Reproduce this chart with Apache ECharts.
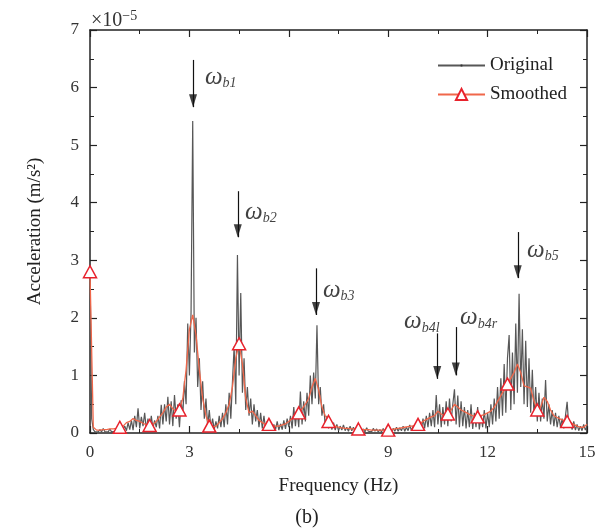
<!DOCTYPE html>
<html>
<head>
<meta charset="utf-8">
<script src="https://cdn.jsdelivr.net/npm/echarts@6/dist/echarts.min.js"></script>
<style>
html,body{margin:0;padding:0;background:#fff;}
#chart{width:614px;height:532px;}
</style>
</head>
<body>
<div id="chart"></div>
<script>
// Original spectrum, 0 to 15 Hz, step 0.05 Hz (units of 1e-5 m/s^2)
const origStep = 0.05;
const originalValues = [
  // 0.00-0.95
  2.9, 0.25, 0.06, 0.02, 0.05, 0.02, 0.06, 0.02, 0.08, 0.02, 0.05, 0.02, 0.07, 0.02, 0.05, 0.03, 0.06, 0.02, 0.09, 0.03,
  // 1.00-1.95
  0.06, 0.12, 0.04, 0.18, 0.06, 0.22, 0.05, 0.3, 0.1, 0.43, 0.08, 0.28, 0.12, 0.35, 0.06, 0.25, 0.05, 0.3, 0.08, 0.22,
  // 2.00-2.95
  0.1, 0.3, 0.08, 0.49, 0.15, 0.5, 0.2, 0.63, 0.15, 0.55, 0.12, 0.66, 0.25, 0.5, 0.1, 0.57, 0.3, 0.9, 0.5, 1.9,
  // 3.00-3.95
  1.0, 2.1, 5.42, 1.4, 2.0, 0.8, 1.3, 0.4, 0.9, 0.25, 0.6, 0.12, 0.4, 0.08, 0.25, 0.06, 0.2, 0.08, 0.3, 0.1,
  // 4.00-4.95
  0.35, 0.1, 0.5, 0.15, 0.7, 0.25, 0.9, 1.5, 0.5, 3.09, 1.0, 2.43, 0.7, 1.3, 0.4, 0.8, 0.3, 0.6, 0.15, 0.5,
  // 5.00-5.95
  0.2, 0.4, 0.1, 0.35, 0.08, 0.3, 0.06, 0.2, 0.05, 0.18, 0.05, 0.15, 0.06, 0.2, 0.05, 0.16, 0.06, 0.22, 0.07, 0.25,
  // 6.00-6.95
  0.1, 0.3, 0.08, 0.45, 0.12, 0.4, 0.1, 0.72, 0.15, 0.55, 0.2, 0.7, 0.3, 1.0, 0.5, 1.05, 0.6, 1.87, 0.5, 0.8,
  // 7.00-7.95
  0.3, 0.5, 0.12, 0.3, 0.08, 0.25, 0.06, 0.18, 0.05, 0.15, 0.04, 0.12, 0.05, 0.14, 0.04, 0.1, 0.03, 0.12, 0.04, 0.1,
  // 8.00-8.95
  0.03, 0.08, 0.02, 0.1, 0.03, 0.07, 0.02, 0.09, 0.03, 0.06, 0.02, 0.08, 0.03, 0.07, 0.02, 0.06, 0.02, 0.08, 0.02, 0.05,
  // 9.00-9.95
  0.02, 0.06, 0.02, 0.08, 0.03, 0.1, 0.03, 0.09, 0.04, 0.12, 0.03, 0.1, 0.04, 0.14, 0.04, 0.12, 0.05, 0.16, 0.06, 0.2,
  // 10.00-10.95
  0.06, 0.25, 0.08, 0.3, 0.1, 0.35, 0.12, 0.4, 0.1, 0.66, 0.15, 0.5, 0.1, 0.45, 0.15, 0.55, 0.12, 0.6, 0.2, 0.5,
  // 11.00-11.95
  0.76, 0.15, 0.65, 0.1, 0.55, 0.12, 0.45, 0.08, 0.4, 0.1, 0.5, 0.07, 0.35, 0.1, 0.45, 0.06, 0.3, 0.1, 0.4, 0.08,
  // 12.00-12.95
  0.35, 0.1, 0.5, 0.15, 0.6, 0.2, 0.8, 0.25, 0.95, 0.3, 1.2, 0.35, 1.3, 1.7, 0.4, 1.4, 0.5, 1.9, 0.7, 2.42,
  // 13.00-13.95
  0.8, 1.8, 0.5, 1.6, 0.45, 1.3, 0.35, 1.1, 0.3, 0.8, 0.2, 0.7, 0.2, 0.6, 0.25, 0.92, 0.2, 0.5, 0.15, 0.4,
  // 14.00-14.95
  0.12, 0.35, 0.1, 0.3, 0.1, 0.25, 0.08, 0.3, 0.54, 0.12, 0.2, 0.06, 0.2, 0.05, 0.15, 0.04, 0.12, 0.04, 0.15, 0.05,
  // 15.00
  0.12
];

// Smoothed spectrum, step 0.1 Hz
const smoothStep = 0.1;
const smoothedValues = [
  2.8, 0.1, 0.05, 0.05, 0.06, 0.06, 0.07, 0.07, 0.08, 0.1,
  0.12, 0.18, 0.2, 0.25, 0.22, 0.2, 0.17, 0.14, 0.13, 0.15,
  0.2, 0.28, 0.35, 0.45, 0.5, 0.42, 0.38, 0.4, 0.6, 1.1,
  1.8, 2.05, 1.7, 1.1, 0.6, 0.3, 0.12, 0.1, 0.12, 0.18,
  0.25, 0.35, 0.5, 0.8, 1.3, 1.55, 1.2, 0.6, 0.35, 0.38,
  0.3, 0.22, 0.18, 0.15, 0.15, 0.13, 0.12, 0.12, 0.14, 0.16,
  0.2, 0.25, 0.3, 0.35, 0.42, 0.5, 0.6, 0.8, 0.95, 0.75,
  0.45, 0.3, 0.2, 0.15, 0.12, 0.1, 0.09, 0.08, 0.08, 0.07,
  0.07, 0.07, 0.06, 0.06, 0.06, 0.05, 0.05, 0.05, 0.05, 0.05,
  0.05, 0.06, 0.07, 0.08, 0.09, 0.1, 0.11, 0.12, 0.13, 0.15,
  0.18, 0.22, 0.25, 0.28, 0.3, 0.38, 0.33, 0.3, 0.33, 0.4,
  0.5, 0.45, 0.4, 0.37, 0.34, 0.31, 0.29, 0.28, 0.3, 0.32,
  0.35, 0.38, 0.45, 0.55, 0.65, 0.75, 0.85, 0.95, 1.05, 1.2,
  1.05, 0.82, 0.8, 0.78, 0.55, 0.4, 0.45, 0.62, 0.55, 0.4,
  0.3, 0.27, 0.24, 0.22, 0.2, 0.18, 0.15, 0.12, 0.1, 0.1,
  0.15
];
const markerEvery = 9;

// Axis ticks
const xMin = 0, xMax = 15, xInterval = 3;
const yMin = 0, yMax = 7, yInterval = 1;

// Annotation arrows: x, top of shaft, arrow tip
const arrowX     = [3.11, 4.46, 6.82, 10.48, 11.04, 12.91];
const arrowTop   = [6.48, 4.2, 2.86, 1.73, 1.84, 3.49];
const arrowTip   = [5.66, 3.4, 2.05, 0.94, 1.0, 2.69];
// Annotation labels
const labelSubs  = ['b1', 'b2', 'b3', 'b4l', 'b4r', 'b5'];
const labelX     = [3.47, 4.68, 7.03, 9.48, 11.17, 13.19];
const labelY     = [6.18, 3.84, 2.48, 1.93, 2.0, 3.18];

const serif = '"Liberation Serif", "Times New Roman", serif';

const originalData = originalValues.map((v, i) => [+(i * origStep).toFixed(2), v]);
const smoothedData = smoothedValues.map((v, i) => [+(i * smoothStep).toFixed(2), v]);
const arrowLines = arrowX.map((x, i) => [{coord: [x, arrowTop[i]]}, {coord: [x, arrowTip[i]]}]);
const arrowHeads = arrowX.map((x, i) => [x, arrowTip[i]]);
const labelData = labelX.map((x, i) => ({value: [x, labelY[i]], sub: labelSubs[i]}));

const chart = echarts.init(document.getElementById('chart'), null, {renderer: 'canvas'});

const tickCommon = {
  axisLine: {show: true, onZero: false, lineStyle: {color: '#222', width: 1.5}},
  axisTick: {show: true, inside: true, length: 7, lineStyle: {color: '#222', width: 1.2}},
  minorTick: {show: true, splitNumber: 2, length: 4, lineStyle: {color: '#222', width: 1}},
  splitLine: {show: false}
};

const option = {
  animation: false,
  backgroundColor: '#fff',
  title: [
    {
      text: '{a|×10}{b|−5}',
      left: 86, top: 4,
      textStyle: {
        fontWeight: 'normal',
        rich: {
          a: {fontFamily: serif, fontSize: 20, fontWeight: 'normal', color: '#333'},
          b: {fontFamily: serif, fontSize: 14, fontWeight: 'normal', color: '#333', padding: [0, 0, 10, 0]}
        }
      }
    },
    {
      text: '(b)',
      left: 'center', top: 503,
      textStyle: {fontFamily: serif, fontSize: 20, fontWeight: 'normal', color: '#222'}
    }
  ],
  grid: {left: 90, right: 27, top: 30, bottom: 99, containLabel: false},
  legend: {
    orient: 'vertical',
    left: 432, top: 51,
    itemWidth: 47, itemHeight: 14, itemGap: 10,
    textStyle: {fontFamily: serif, fontSize: 19, color: '#222'},
    data: ['Original', 'Smoothed']
  },
  xAxis: [
    Object.assign({
      type: 'value', min: xMin, max: xMax, interval: xInterval, position: 'bottom',
      name: 'Frequency (Hz)', nameLocation: 'middle', nameGap: 44,
      nameTextStyle: {fontFamily: serif, fontSize: 19, color: '#222'},
      axisLabel: {fontFamily: serif, fontSize: 17, color: '#333', margin: 11}
    }, tickCommon),
    Object.assign({
      type: 'value', min: xMin, max: xMax, interval: xInterval, position: 'top',
      axisLabel: {show: false}
    }, tickCommon)
  ],
  yAxis: [
    Object.assign({
      type: 'value', min: yMin, max: yMax, interval: yInterval, position: 'left',
      name: 'Acceleration (m/s²)', nameLocation: 'middle', nameGap: 45,
      nameTextStyle: {fontFamily: serif, fontSize: 19, color: '#222'},
      axisLabel: {fontFamily: serif, fontSize: 17, color: '#333', margin: 11}
    }, tickCommon),
    Object.assign({
      type: 'value', min: yMin, max: yMax, interval: yInterval, position: 'right',
      axisLabel: {show: false}
    }, tickCommon)
  ],
  series: [
    {
      name: 'Original',
      type: 'line',
      data: originalData,
      // tiny centre dot only used by the legend icon
      symbol: 'path://M0,0L0.01,0M42,42L58,42L58,58L42,58ZM100,100L100.01,100',
      showSymbol: false,
      lineStyle: {color: '#575757', width: 1.2},
      itemStyle: {color: '#333', borderWidth: 0},
      z: 2,
      markLine: {
        silent: true,
        symbol: ['none', 'none'],
        label: {show: false},
        lineStyle: {color: '#111', width: 1.2, type: 'solid'},
        data: arrowLines
      }
    },
    {
      name: 'Smoothed',
      type: 'line',
      data: smoothedData,
      showAllSymbol: true,
      symbol: 'triangle',
      symbolSize: function (val, params) { return params.dataIndex % markerEvery === 0 ? [13, 12] : 0; },
      lineStyle: {color: '#f0674a', width: 1.3},
      itemStyle: {color: '#fff', borderColor: '#e8222c', borderWidth: 1.5},
      z: 3
    },
    {
      name: 'arrowheads',
      type: 'scatter',
      data: arrowHeads,
      symbol: 'path://M0,0L10,0L5,16Z',
      symbolSize: [8, 13],
      symbolOffset: [0, '-50%'],
      itemStyle: {color: '#111'},
      silent: true,
      z: 5
    },
    {
      name: 'labels',
      type: 'scatter',
      data: labelData,
      symbolSize: 0,
      silent: true,
      z: 5,
      label: {
        show: true,
        position: 'right',
        distance: 0,
        formatter: function (p) { return '{w|ω}{s|' + p.data.sub + '}'; },
        rich: {
          w: {fontFamily: serif, fontStyle: 'italic', fontSize: 25, color: '#111'},
          s: {fontFamily: serif, fontStyle: 'italic', fontSize: 14, color: '#111', padding: [12, 0, 0, 0]}
        }
      }
    }
  ]
};
chart.setOption(option);
</script>
</body>
</html>
